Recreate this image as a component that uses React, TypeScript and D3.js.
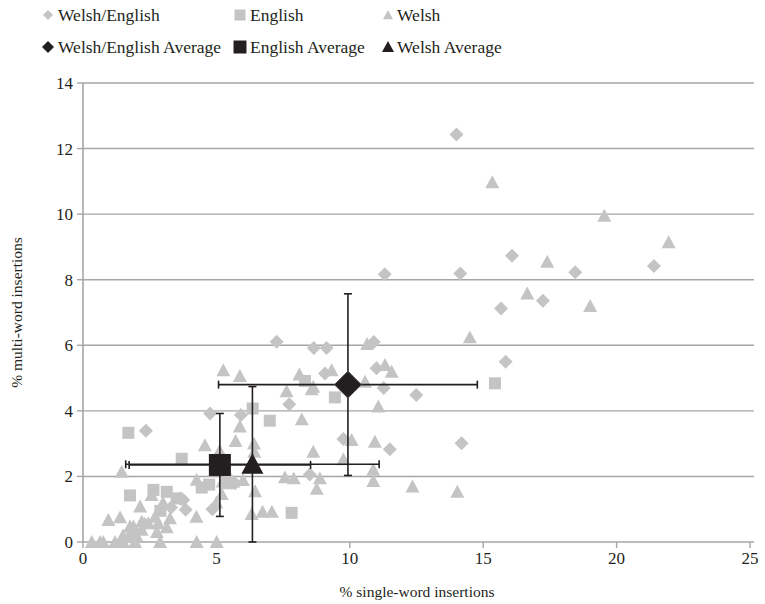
import * as d3 from "d3";

// series: [x = % single-word, y = % multi-word]
const welshEnglish: [number, number][] = [
  [14.0, 12.43], [11.31, 8.17], [14.14, 8.19], [16.08, 8.73], [18.45, 8.23], [21.4, 8.42],
  [15.67, 7.12], [17.24, 7.36], [15.84, 5.5], [12.49, 4.48], [11.27, 4.7], [11.0, 5.3],
  [10.9, 6.1], [14.19, 3.01], [8.65, 5.92], [9.13, 5.92], [9.07, 5.14], [7.26, 6.11],
  [7.73, 4.2], [4.76, 3.92], [5.92, 3.87], [2.36, 3.39], [9.76, 3.14], [11.5, 2.83],
  [8.5, 2.06], [5.7, 1.79], [4.85, 1.0], [3.76, 1.28], [3.85, 0.98], [3.64, 1.33],
  [3.3, 1.05], [2.3, 0.55],
];

const english: [number, number][] = [
  [1.7, 3.33], [3.7, 2.54], [1.76, 1.42], [2.64, 1.59], [3.14, 1.53], [3.51, 1.33],
  [4.45, 1.66], [4.73, 1.75], [6.36, 4.07], [7.0, 3.7], [8.32, 4.91], [9.44, 4.41],
  [15.44, 4.84], [7.82, 0.89], [2.9, 0.95], [1.85, 0.15],
];

const welsh: [number, number][] = [
  [15.34, 10.97], [19.54, 9.95], [21.95, 9.14], [17.4, 8.55], [16.65, 7.58], [19.01, 7.2],
  [14.5, 6.24], [10.65, 6.04], [11.32, 5.4], [11.57, 5.19], [10.57, 4.89], [11.07, 4.13],
  [9.32, 5.24], [8.63, 4.73], [5.26, 5.24], [5.88, 5.06], [8.11, 5.11], [7.63, 4.6],
  [8.57, 4.66], [8.2, 3.74], [5.88, 3.52], [5.72, 3.08], [4.57, 2.95], [5.12, 2.78],
  [6.41, 3.0], [6.42, 2.75], [8.63, 2.75], [9.76, 2.52], [10.07, 3.11], [10.94, 3.06],
  [10.88, 2.2], [10.88, 1.86], [12.35, 1.69], [14.03, 1.53], [8.88, 1.94], [8.76, 1.62],
  [7.57, 1.97], [7.9, 1.94], [1.45, 2.14], [4.26, 1.9], [5.23, 1.84], [5.4, 1.79],
  [5.63, 1.84], [6.0, 1.89], [5.45, 2.04], [5.2, 1.46], [5.0, 1.2], [6.45, 1.55],
  [6.32, 0.85], [6.73, 0.92], [7.08, 0.92], [4.25, 0.77], [2.14, 1.08], [2.7, 0.77],
  [2.57, 1.43], [3.0, 1.2], [0.95, 0.67], [1.39, 0.75], [1.76, 0.47], [1.89, 0.47],
  [2.2, 0.62], [2.45, 0.57], [2.82, 0.57], [3.14, 0.45], [3.26, 0.72], [2.2, 0.37],
  [2.77, 0.3], [2.0, 0.2], [1.5, 0.2], [0.33, 0], [0.64, 0], [0.76, 0], [1.2, 0],
  [1.51, 0], [1.95, 0], [2.89, 0], [4.26, 0], [5.01, 0],
];

// averages with error (x, y, xErr, yErr)
const averageNames = ["Welsh/English Average", "English Average", "Welsh Average"];
const averageShapes = ["diamond", "square", "triangle"];
const averages: [number, number, number, number][] = [
  [9.93, 4.8, 4.85, 2.77],
  [5.13, 2.35, 3.4, 1.57],
  [6.35, 2.37, 4.75, 2.37],
];

const seriesNames = ["Welsh/English", "English", "Welsh"];
const xTicks = [0, 5, 10, 15, 20, 25];
const yTicks = [0, 2, 4, 6, 8, 10, 12, 14];

const GRAY = "#c4c4c5";
const DARK = "#231f20";
const GRID = "#a6a6a6";
const FONT = "'Liberation Serif', 'Times New Roman', serif";
const txt = { fontFamily: FONT };

function marker(shape: string, cx: number, cy: number, size: number, fill: string, key?: any) {
  const h = size / 2;
  let d = "";
  if (shape === "diamond") d = `M${cx},${cy - h}L${cx + h},${cy}L${cx},${cy + h}L${cx - h},${cy}Z`;
  else if (shape === "square") d = `M${cx - h},${cy - h}h${size}v${size}h${-size}Z`;
  else d = `M${cx},${cy - h}L${cx + h},${cy + h * 0.85}L${cx - h},${cy + h * 0.85}Z`;
  return <path key={key} d={d} fill={fill} />;
}

export default function App() {
  const width = 765;
  const height = 604;
  const x = d3.scaleLinear().domain([0, 25]).range([83, 750]);
  const y = d3.scaleLinear().domain([0, 14]).range([542, 83]);

  const groups: [string, [number, number][], number][] = [
    ["diamond", welshEnglish, 14],
    ["square", english, 12],
    ["triangle", welsh, 14],
  ];

  const legendCols = [48, 240, 388];
  const legendTextX = [58, 250, 397];
  const legendRows = [15, 47];

  return (
    <svg
      width={width}
      height={height}
      style={{ position: "absolute", left: 0, top: 0, background: "#fff" }}
    >
      {/* gridlines */}
      {yTicks.map((t) => (
        <line key={"g" + t} x1={x(0)} x2={x(25) + 4} y1={y(t)} y2={y(t)} stroke={GRID} strokeWidth={1.4} />
      ))}
      {/* y axis */}
      <line x1={x(0)} x2={x(0)} y1={y(14)} y2={y(0)} stroke={GRID} strokeWidth={1.6} />
      {yTicks.map((t) => (
        <g key={"yt" + t}>
          <line x1={x(0) - 6} x2={x(0)} y1={y(t)} y2={y(t)} stroke={GRID} strokeWidth={1.4} />
          <text x={x(0) - 10} y={y(t)} dy="0.35em" textAnchor="end" fontSize={17} fill={DARK} style={txt}>
            {t}
          </text>
        </g>
      ))}
      {xTicks.map((t) => (
        <g key={"xt" + t}>
          <line x1={x(t)} x2={x(t)} y1={y(0)} y2={y(0) + 6} stroke={GRID} strokeWidth={1.4} />
          <text x={x(t)} y={y(0) + 22} textAnchor="middle" fontSize={17} fill={DARK} style={txt}>
            {t}
          </text>
        </g>
      ))}

      {/* scatter series */}
      {groups.map(([shape, pts, size], gi) => (
        <g key={"s" + gi}>{pts.map((p, i) => marker(shape, x(p[0]), y(p[1]), size, GRAY, i))}</g>
      ))}

      {/* error bars */}
      {averages.map((a, i) => {
        const cx = x(a[0]);
        const cy = y(a[1]);
        const x0 = x(a[0] - a[2]);
        const x1 = x(a[0] + a[2]);
        const y0 = y(Math.max(0, a[1] - a[3]));
        const y1 = y(a[1] + a[3]);
        return (
          <g key={"e" + i} stroke={DARK} strokeWidth={1.6}>
            <line x1={x0} x2={x1} y1={cy} y2={cy} />
            <line x1={x0} x2={x0} y1={cy - 4} y2={cy + 4} />
            <line x1={x1} x2={x1} y1={cy - 4} y2={cy + 4} />
            <line x1={cx} x2={cx} y1={y0} y2={y1} />
            <line x1={cx - 4} x2={cx + 4} y1={y0} y2={y0} />
            <line x1={cx - 4} x2={cx + 4} y1={y1} y2={y1} />
          </g>
        );
      })}
      {averages.map((a, i) => {
        const s = averageShapes[i] === "diamond" ? 27 : 22;
        return (
          <g key={"a" + i} stroke={averageShapes[i] === "diamond" ? "#555" : "none"} strokeWidth={1}>
            {marker(averageShapes[i], x(a[0]), y(a[1]), s, DARK)}
          </g>
        );
      })}

      {/* legend */}
      {seriesNames.map((n, i) => (
        <g key={"l" + i}>
          {marker(averageShapes[i], legendCols[i], legendRows[0], i === 1 ? 11 : 10, GRAY)}
          <text x={legendTextX[i]} y={legendRows[0]} dy="0.35em" fontSize={17.5} fill={DARK} style={txt}>
            {n}
          </text>
        </g>
      ))}
      {averageNames.map((n, i) => (
        <g key={"la" + i}>
          {marker(averageShapes[i], legendCols[i], legendRows[1], i === 1 ? 13 : 12, DARK)}
          <text x={legendTextX[i]} y={legendRows[1]} dy="0.35em" fontSize={17.5} fill={DARK} style={txt}>
            {n}
          </text>
        </g>
      ))}

      {/* axis titles */}
      <text x={417} y={597} textAnchor="middle" fontSize={15.5} fill={DARK} style={txt}>
        % single-word insertions
      </text>
      <text
        transform={`translate(22,${(y(0) + y(14)) / 2}) rotate(-90)`}
        textAnchor="middle"
        fontSize={15.5}
        fill={DARK}
        style={txt}
      >
        % multi-word insertions
      </text>
    </svg>
  );
}
